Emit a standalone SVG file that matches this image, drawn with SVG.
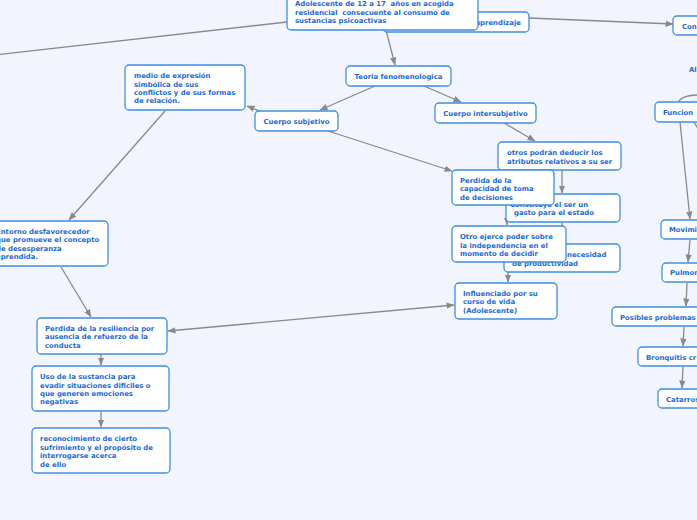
<svg xmlns="http://www.w3.org/2000/svg" width="697" height="520" viewBox="0 0 697 520">
<defs>
<marker id="ah" markerUnits="userSpaceOnUse" markerWidth="8" markerHeight="8" viewBox="0 0 8 8" refX="7.5" refY="4" orient="auto">
<path d="M0,0.8 L8,4 L0,7.2 Z" fill="#8a8a8a"/>
</marker>
<marker id="ahs" markerUnits="userSpaceOnUse" markerWidth="8" markerHeight="8" viewBox="0 0 8 8" refX="0.5" refY="4" orient="auto">
<path d="M8,0.8 L0,4 L8,7.2 Z" fill="#8a8a8a"/>
</marker>
</defs>
<style>
.n{fill:#ffffff;stroke:#3e8ee6;stroke-width:1.3}
.t{font-family:"DejaVu Sans","Verdana",sans-serif;font-weight:bold;font-size:6.9px;fill:#1b6ad8;white-space:pre}
.c{fill:none;stroke:#8a8a8a;stroke-width:1.3}
.a{marker-end:url(#ah)}
</style>
<rect x="0" y="0" width="697" height="520" fill="#f2f5fd"/>
<g id="connectors">
<line class="c" x1="287" y1="22" x2="-5" y2="55"/>
<line class="c a" x1="386" y1="30" x2="395" y2="65"/>
<line class="c a" x1="529" y1="18" x2="673" y2="24"/>
<line class="c a" x1="375" y1="86" x2="320" y2="110"/>
<line class="c a" x1="424" y1="86" x2="461" y2="102"/>
<line class="c a" x1="262" y1="112" x2="247" y2="106"/>
<line class="c a" x1="328" y1="131" x2="452" y2="171"/>
<line class="c a" x1="504" y1="123" x2="535" y2="141"/>
<line class="c a" x1="165" y1="111" x2="69" y2="220"/>
<line class="c a" x1="61" y1="267" x2="91" y2="317"/>
<line class="c a" x1="562" y1="170" x2="562" y2="193"/>
<line class="c a" x1="507" y1="204" x2="507" y2="225"/>
<line class="c a" x1="562" y1="222" x2="562" y2="243"/>
<line class="c a" x1="508" y1="262" x2="508" y2="282"/>
<line class="c a" x1="168" y1="331" x2="454" y2="305" marker-start="url(#ahs)"/>
<line class="c a" x1="101" y1="354" x2="101" y2="365"/>
<line class="c a" x1="101" y1="411" x2="101" y2="427"/>
<path class="c" d="M679,102 Q680,96 697,95"/>
<line class="c a" x1="680" y1="122" x2="690" y2="219"/>
<line class="c" x1="694" y1="122" x2="700" y2="132"/>
<line class="c a" x1="690" y1="240" x2="688" y2="262"/>
<line class="c a" x1="687" y1="283" x2="686" y2="306"/>
<line class="c a" x1="684" y1="327" x2="683" y2="346"/>
<line class="c a" x1="683" y1="367" x2="682" y2="388"/>
</g>
<g id="n-aprendizaje"><rect class="n" x="383" y="12" width="146" height="20" rx="4"/><text class="t" x="521" y="25" text-anchor="end">aprendizaje</text></g>
<g id="n-root"><rect class="n" x="287" y="-6" width="191" height="36" rx="4"/>
<text class="t" x="295" y="6">Adolescente de 12 a 17  años en acogida</text>
<text class="t" x="295" y="15">residencial  consecuente al consumo de</text>
<text class="t" x="295" y="23">sustancias psicoactivas</text></g>
<g id="n-con"><rect class="n" x="673" y="16" width="40" height="19" rx="4"/><text class="t" x="682" y="28.5">Con</text></g>
<g id="n-al"><text class="t" x="689" y="72">Al</text></g>
<g id="n-funcion"><rect class="n" x="655" y="102" width="60" height="20" rx="4"/><text class="t" x="663" y="115">Funcion</text></g>
<g id="n-movimi"><rect class="n" x="661" y="220" width="60" height="19" rx="4"/><text class="t" x="669" y="232">Movimi</text></g>
<g id="n-pulmon"><rect class="n" x="662" y="263" width="60" height="19" rx="4"/><text class="t" x="670" y="275">Pulmon</text></g>
<g id="n-posibles"><rect class="n" x="612" y="307" width="110" height="19" rx="4"/><text class="t" x="620" y="319.5">Posibles problemas</text></g>
<g id="n-bronquitis"><rect class="n" x="638" y="347" width="80" height="19" rx="4"/><text class="t" x="646" y="359.5">Bronquitis cr</text></g>
<g id="n-catarros"><rect class="n" x="658" y="389" width="60" height="19" rx="4"/><text class="t" x="666" y="401.5">Catarros</text></g>
<g id="n-medio"><rect class="n" x="125" y="65" width="120" height="45" rx="4"/>
<text class="t" x="134" y="78">medio de expresión</text>
<text class="t" x="134" y="86.5">simbólica de sus</text>
<text class="t" x="134" y="95">conflictos y de sus formas</text>
<text class="t" x="134" y="103">de relación.</text></g>
<g id="n-teoria"><rect class="n" x="346" y="66" width="105" height="20" rx="4"/><text class="t" x="398.5" y="79" text-anchor="middle">Teoria fenomenologica</text></g>
<g id="n-subjetivo"><rect class="n" x="255" y="111" width="83" height="20" rx="4"/><text class="t" x="296.5" y="124" text-anchor="middle">Cuerpo subjetivo</text></g>
<g id="n-intersubjetivo"><rect class="n" x="435" y="103" width="101" height="20" rx="4"/><text class="t" x="485.5" y="116" text-anchor="middle">Cuerpo intersubjetivo</text></g>
<g id="n-otros"><rect class="n" x="498" y="142" width="123" height="28" rx="4"/>
<text class="t" x="507" y="155">otros podrán deducir los</text>
<text class="t" x="507" y="163.5">atributos relativos a su ser</text></g>
<g id="n-constituye"><rect class="n" x="506" y="194" width="114" height="28" rx="4"/>
<text class="t" x="510" y="206.5">Constituye el ser un</text>
<text class="t" x="514" y="215">gasto para el estado</text></g>
<g id="n-necesidad"><rect class="n" x="504" y="244" width="116" height="28" rx="4"/>
<text class="t" x="567" y="257">necesidad</text>
<text class="t" x="512" y="265.5">de productividad</text></g>
<g id="n-perdida-cap"><rect class="n" x="452" y="170" width="102" height="35" rx="4"/>
<text class="t" x="460" y="182.5">Perdida de la</text>
<text class="t" x="460" y="191">capacidad de toma</text>
<text class="t" x="460" y="199.5">de decisiones</text></g>
<g id="n-otro"><rect class="n" x="452" y="226" width="114" height="36" rx="4"/>
<text class="t" x="460" y="239">Otro ejerce poder sobre</text>
<text class="t" x="460" y="247.5">la independencia en el</text>
<text class="t" x="460" y="256">momento de decidir</text></g>
<g id="n-influenciado"><rect class="n" x="455" y="283" width="102" height="36" rx="4"/>
<text class="t" x="463" y="295.5">Influenciado por su</text>
<text class="t" x="463" y="304">curso de vida</text>
<text class="t" x="463" y="312.5">(Adolescente)</text></g>
<g id="n-entorno"><rect class="n" x="-15" y="221" width="123" height="45" rx="4"/>
<text class="t" x="-4" y="234">Entorno desfavorecedor</text>
<text class="t" x="-4" y="242">que promueve el concepto</text>
<text class="t" x="-4" y="250.5">de desesperanza</text>
<text class="t" x="-4" y="259">aprendida.</text></g>
<g id="n-resiliencia"><rect class="n" x="37" y="318" width="130" height="36" rx="4"/>
<text class="t" x="45" y="330.5">Perdida de la resiliencia por</text>
<text class="t" x="45" y="339">ausencia de refuerzo de la</text>
<text class="t" x="45" y="347.5">conducta</text></g>
<g id="n-uso"><rect class="n" x="32" y="366" width="137" height="45" rx="4"/>
<text class="t" x="40" y="379">Uso de la sustancia para</text>
<text class="t" x="40" y="387.5">evadir situaciones dificiles o</text>
<text class="t" x="40" y="396">que generen emociones</text>
<text class="t" x="40" y="404">negativas</text></g>
<g id="n-reconocimiento"><rect class="n" x="32" y="428" width="138" height="45" rx="4"/>
<text class="t" x="40" y="441">reconocimiento de cierto</text>
<text class="t" x="40" y="449.5">sufrimiento y el propósito de</text>
<text class="t" x="40" y="458">interrogarse acerca</text>
<text class="t" x="40" y="466.5">de ello</text></g>
</svg>
